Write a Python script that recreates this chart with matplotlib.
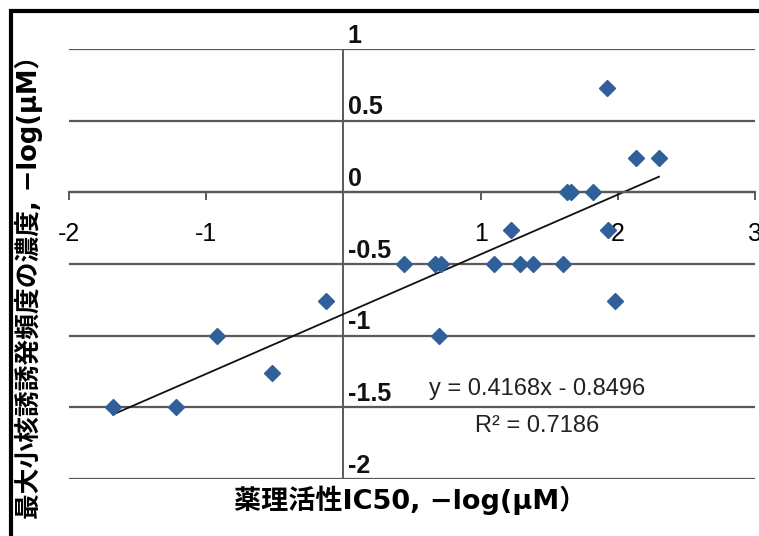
import matplotlib
matplotlib.use("Agg")
import matplotlib.pyplot as plt
from matplotlib.patches import Rectangle
import numpy as np

# values
x_vals = [-1.68, -1.22, -0.92, -0.52, -0.13, 0.44, 0.67, 0.71, 0.70, 1.10, 1.22,
          1.29, 1.38, 1.60, 1.63, 1.66, 1.82, 1.93, 1.92, 1.98, 2.13, 2.30]
y_vals = [-1.50, -1.50, -1.00, -1.26, -0.76, -0.50, -0.50, -0.50, -1.00, -0.50, -0.26,
          -0.50, -0.50, -0.50, 0.00, 0.00, 0.00, -0.26, 0.73, -0.76, 0.24, 0.24]
slope = 0.4168
intercept = -0.8496
r2 = 0.7186
x_ticks = [-2, -1, 1, 2, 3]
y_ticks = [1, 0.5, 0, -0.5, -1, -1.5, -2]
y_tick_labels = ["1", "0.5", "0", "-0.5", "-1", "-1.5", "-2"]

xlabel = "薬理活性IC50, −log(μM）"
ylabel = "最大小核誘誘発頻度の濃度, −log(μM）"

cjk = ["DejaVu Sans", "Noto Sans CJK JP"]
narrow = ["Liberation Sans", "DejaVu Sans"]
grid_col = "#5a5a5a"
marker_col = "#30609a"

fig = plt.figure(figsize=(7.59, 5.36), dpi=100)
ax = fig.add_axes([69 / 759, 1 - 479 / 536, 686 / 759, 430 / 536])
ax.set_xlim(-2, 3)
ax.set_ylim(-2, 1)

# horizontal grid lines
for v in y_ticks:
    ax.axhline(v, color=grid_col, lw=1.6, zorder=1)

for s in ["top", "right", "left"]:
    ax.spines[s].set_visible(False)
ax.spines["bottom"].set_position(("data", 0))
ax.spines["bottom"].set_color(grid_col)
ax.spines["bottom"].set_linewidth(1.6)
ax.axvline(0, color=grid_col, lw=1.4, zorder=1)

ax.set_xticks(x_ticks)
ax.set_xticklabels([str(t) for t in x_ticks], family=narrow, fontsize=18)
ax.tick_params(axis="x", direction="out", length=6, width=1.4, color=grid_col, pad=15)
ax.set_yticks([])

for v, lab in zip(y_ticks, y_tick_labels):
    ax.annotate(lab, xy=(0, v), xytext=(3, 1), textcoords="offset points",
                ha="left", va="bottom", fontsize=18, fontweight="bold",
                family=narrow, color="#111111")

ax.plot(x_vals, y_vals, linestyle="none", marker="D", markersize=8.5,
        color=marker_col, markeredgecolor=marker_col, zorder=3)

xs = np.array([min(x_vals), max(x_vals)])
ax.plot(xs, slope * xs + intercept, color="#111111", lw=1.3, zorder=2)

ax.text(1.41, -1.37, f"y = {slope}x - {abs(intercept)}", ha="center", va="center",
        fontsize=17, family=narrow, color="#222222")
ax.text(1.41, -1.63, f"R² = {r2}", ha="center", va="center",
        fontsize=17, family=narrow, color="#222222")

fig.text(410 / 759, 1 - 500 / 536, xlabel, ha="center", va="center",
         fontsize=19.5, fontweight="bold", family=cjk)
fig.text(29 / 759, 1 - 281 / 536, ylabel, ha="center", va="center", rotation=90,
         fontsize=18.5, fontweight="bold", family=cjk)

fig.add_artist(Rectangle((11 / 759, -0.2), 1.2, 1 - 11 / 536 + 0.2, fill=False,
                         edgecolor="black", lw=3, transform=fig.transFigure))

fig.savefig("out.png", dpi=100)
